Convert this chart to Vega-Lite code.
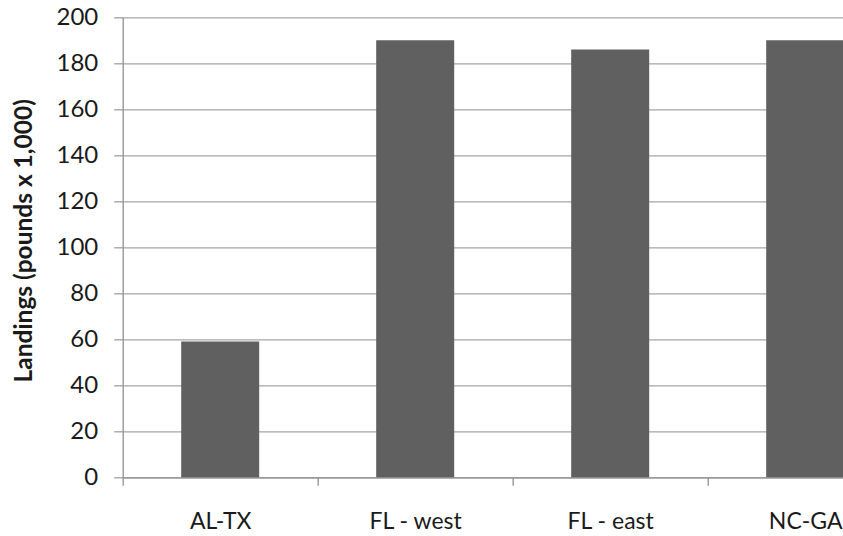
{
  "$schema": "https://vega.github.io/schema/vega-lite/v6.json",
  "width": 780,
  "height": 460,
  "autosize": {"type": "none"},
  "padding": {"left": 122.7, "top": 17.3, "right": 0, "bottom": 60},
  "background": "white",
  "config": {
    "view": {"stroke": null},
    "font": "Lato",
    "axis": {"labelFont": "Lato", "titleFont": "Lato", "labelColor": "#1a1a1a", "titleColor": "#1a1a1a"}
  },
  "data": {
    "values": [
      {"region": "AL-TX", "landings": 59},
      {"region": "FL - west", "landings": 190},
      {"region": "FL - east", "landings": 186},
      {"region": "NC-GA", "landings": 190}
    ]
  },
  "mark": {"type": "bar", "color": "#606060", "width": {"band": 0.4}},
  "encoding": {
    "x": {
      "field": "region",
      "type": "nominal",
      "sort": null,
      "scale": {"paddingInner": 0, "paddingOuter": 0},
      "axis": {
        "title": null,
        "labelAngle": 0,
        "labelFontSize": 23,
        "labelPadding": 25,
        "tickBand": "extent",
        "tickSize": 8,
        "tickWidth": 1.3,
        "tickColor": "#909090",
        "domainColor": "#909090",
        "domainWidth": 1.3,
        "grid": false
      }
    },
    "y": {
      "field": "landings",
      "type": "quantitative",
      "scale": {"domain": [0, 200], "nice": false},
      "axis": {
        "title": "Landings (pounds x 1,000)",
        "titleFontSize": 24.5,
        "titleFontWeight": "bold",
        "titleAngle": -90,
        "titleX": -98,
        "titleY": 223,
        "titleAlign": "center",
        "titleBaseline": "middle",
        "values": [0, 20, 40, 60, 80, 100, 120, 140, 160, 180, 200],
        "labelFontSize": 24,
        "labelPadding": 16,
        "tickSize": 9,
        "tickColor": "#a0a0a0",
        "tickWidth": 1.3,
        "domainColor": "#909090",
        "domainWidth": 1.3,
        "grid": true,
        "gridColor": "#a6a6a6",
        "gridWidth": 1.3
      }
    }
  }
}
